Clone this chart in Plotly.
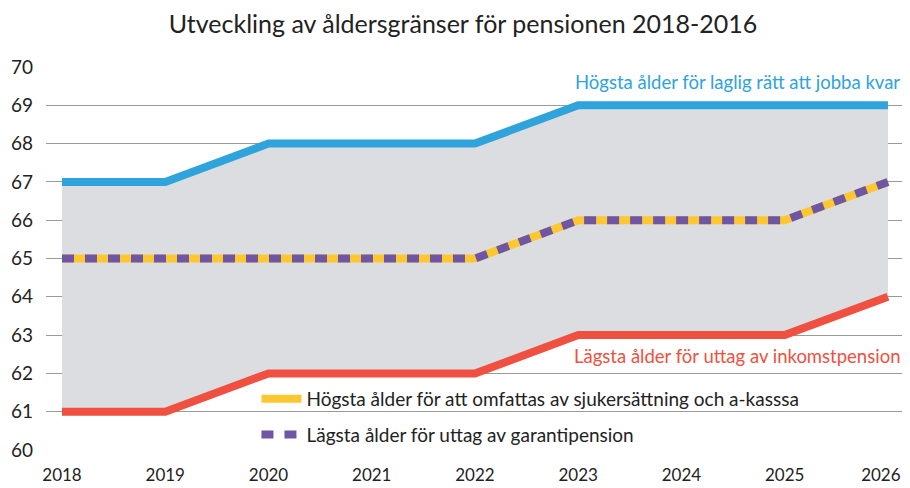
import plotly.graph_objects as go

years = [2018, 2019, 2020, 2021, 2022, 2023, 2024, 2025, 2026]
year_labels = ["2018", "2019", "2020", "2021", "2022", "2023", "2024", "2025", "2026\u2007\u00a0"]
hogsta_jobba = [67, 67, 68, 68, 68, 69, 69, 69, 69]
sjukersattning = [65, 65, 65, 65, 65, 66, 66, 66, 67]
garantipension = [65, 65, 65, 65, 65, 66, 66, 66, 67]
inkomstpension = [61, 61, 62, 62, 62, 63, 63, 63, 64]
y_ticks = list(range(60, 71))

FONT = "Lato, Roboto, sans-serif"
BLUE = "#2ea3dc"
RED = "#ef5040"
YELLOW = "#fdc82f"
PURPLE = "#6f56a5"
GRAY = "#dcdde0"

fig = go.Figure()
# gray band
fig.add_trace(go.Scatter(x=years, y=inkomstpension, mode="lines", line=dict(width=0),
                         showlegend=False, hoverinfo="skip"))
fig.add_trace(go.Scatter(x=years, y=hogsta_jobba, mode="lines", line=dict(width=0),
                         fill="tonexty", fillcolor=GRAY, showlegend=False, hoverinfo="skip"))
# lines
fig.add_trace(go.Scatter(x=years, y=hogsta_jobba, mode="lines", line=dict(color=BLUE, width=8),
                         showlegend=False, name="Högsta ålder för laglig rätt att jobba kvar"))
fig.add_trace(go.Scatter(x=years, y=inkomstpension, mode="lines", line=dict(color=RED, width=8),
                         showlegend=False, name="Lägsta ålder för uttag av inkomstpension"))
fig.add_trace(go.Scatter(x=years, y=sjukersattning, mode="lines", line=dict(color=YELLOW, width=8),
                         name="Högsta ålder för att omfattas av sjukersättning och a-kasssa",
                         legendgroup="a"))
fig.add_trace(go.Scatter(x=years, y=garantipension, mode="lines",
                         line=dict(color=PURPLE, width=8, dash="12px,11px"),
                         name="Lägsta ålder för uttag av garantipension", legendgroup="b"))

fig.add_annotation(x=1, xref="paper", y=69.6, yref="y", xanchor="right", yanchor="middle",
                   xshift=-3,
                   text="Högsta ålder för laglig rätt att jobba kvar", showarrow=False,
                   font=dict(family=FONT, size=18.5, color=BLUE))
fig.add_annotation(x=1, xref="paper", y=62.45, yref="y", xanchor="right", yanchor="middle",
                   xshift=-3,
                   text="Lägsta ålder för uttag av inkomstpension", showarrow=False,
                   font=dict(family=FONT, size=18.5, color=RED))

fig.update_layout(
    width=910, height=488,
    margin=dict(l=38, r=13, t=59, b=46),
    paper_bgcolor="white", plot_bgcolor="white",
    title=dict(text="Utveckling av åldersgränser för pensionen 2018-2016", x=0.5, xanchor="center",
               y=0.966, yanchor="middle", font=dict(family=FONT, size=25, color="#222")),
    font=dict(family=FONT, size=18, color="#222"),
    xaxis=dict(range=[2017.845, 2026.165], tickmode="array", tickvals=years,
               ticktext=year_labels, showgrid=False, zeroline=False,
               showline=False, ticks="", ticklabelstandoff=13, automargin=False,
               tickfont=dict(size=17, color="#222")),
    yaxis=dict(range=[60, 70], tickmode="array", tickvals=y_ticks, showgrid=True,
               gridcolor="#9a9a9a", gridwidth=1.3, zeroline=False, showline=False,
               ticks="", ticklabelstandoff=12, automargin=False,
               tickfont=dict(size=19, color="#222")),
    legend=dict(x=0.245, y=0.183, xanchor="left", yanchor="top", bgcolor="rgba(0,0,0,0)",
                font=dict(family=FONT, size=19, color="#222"), tracegroupgap=8,
                itemwidth=40),
    showlegend=True,
)

fig.write_html("out.html")
